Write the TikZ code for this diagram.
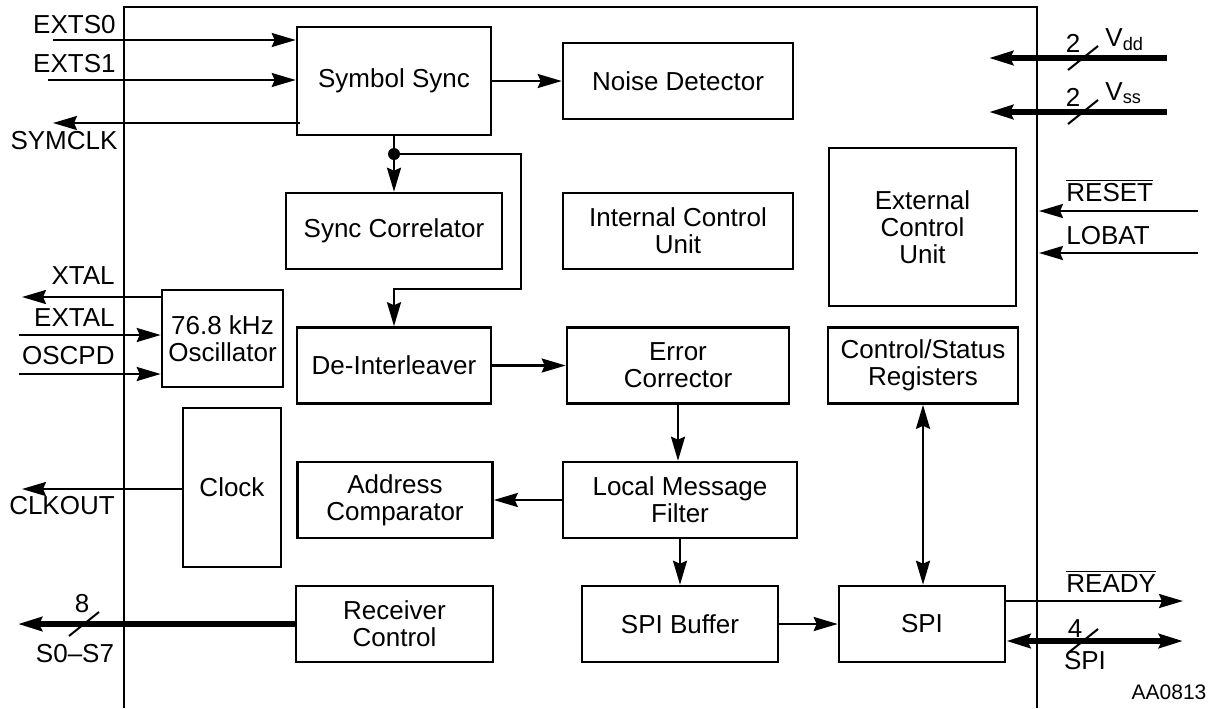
\documentclass[tikz,border=0pt]{standalone}
\usepackage{fontspec}
\setmainfont{Liberation Sans}
\usetikzlibrary{arrows.meta}

\begin{document}
\begin{tikzpicture}[x=0.5pt,y=-0.5pt,
  font=\fontsize{13}{13.5}\selectfont,
  >={Stealth[length=12pt,width=7pt,inset=1.5pt]},
  block/.style={draw,line width=1.3pt,align=center,inner sep=0pt,minimum height=38pt},
  wire/.style={line width=1.2pt},
  bus/.style={line width=2.6pt},
  slash/.style={line width=1pt},
  lbl/.style={inner sep=0pt}]
\useasboundingbox (0,0) rectangle (1209,708);
% chip outline, open at the bottom
\draw[line width=1.3pt] (124,708) -- (124,7) -- (1037,7) -- (1037,708);
% blocks
\node[block,minimum width=97pt,minimum height=54pt] (sync) at (394,81) {Symbol Sync};
\node[block,minimum width=115pt] (noise) at (678,81) {Noise Detector};
\node[block,minimum width=108pt] (corr) at (394,231) {Sync Correlator};
\node[block,minimum width=115pt] (icu) at (678,231) {Internal Control\\Unit};
\node[block,minimum width=93.5pt,minimum height=79pt] (ecu) at (922.5,227) {External\\Control\\Unit};
\node[block,minimum width=60.5pt,minimum height=48.5pt] (osc) at (222.5,338.5) {76.8 kHz\\Oscillator};
\node[block,minimum width=97pt] (deint) at (394,365.5) {De-Interleaver};
\node[block,minimum width=111pt] (errc) at (678,365.5) {Error\\Corrector};
\node[block,minimum width=95pt] (csr) at (923,365.5) {Control/Status\\Registers};
\node[block,minimum width=49pt,minimum height=79.5pt] (clock) at (232,487.5) {Clock};
\node[block,minimum width=97.5pt] (addr) at (395,500) {Address\\Comparator};
\node[block,minimum width=117pt] (lmf) at (680,500) {Local Message\\Filter};
\node[block,minimum width=98.5pt] (recv) at (394.5,624) {Receiver\\Control};
\node[block,minimum width=98pt] (spibuf) at (680,624) {SPI Buffer};
\node[block,minimum width=83pt] (spi) at (922,624) {SPI};
% pin ends
\coordinate (exts0) at (53,40);
\coordinate (exts1) at (48,80);
\coordinate (symclk) at (53,123);
\coordinate (xtal) at (22,297);
\coordinate (extal) at (19,335);
\coordinate (oscpd) at (19,374);
\coordinate (clkout) at (22,489);
\coordinate (sbus) at (18,624);
\coordinate (vdd) at (1167,58);
\coordinate (vss) at (1167,112);
\coordinate (vtip) at (989,0);
\coordinate (reset) at (1198,211);
\coordinate (lobat) at (1198,253);
\coordinate (edge) at (1039,0);
\coordinate (ready) at (1183,601);
\coordinate (spibus) at (1183,641);
\coordinate (tap) at (394,154);
\coordinate (loop) at (521,289);
% connections
\draw[wire,->] (exts0) -- (sync.west |- exts0);
\draw[wire,->] (exts1) -- (sync.west |- exts1);
\draw[wire,->] ([xshift=2pt]sync.west |- symclk) -- (symclk);
\draw[wire,->] (sync.east) -- (noise.west);
\draw[wire] (sync.south) -- (tap);
\draw[wire,->] (tap) -- (corr.north);
\draw[wire,->] (tap) -| (loop) -| (deint.north);
\fill (tap) circle (3pt);
\draw[wire,->] (osc.west |- xtal) -- (xtal);
\draw[wire,->] (extal) -- (osc.west |- extal);
\draw[wire,->] (oscpd) -- (osc.west |- oscpd);
\draw[wire,->] (deint.east) -- (errc.west);
\draw[wire,->] (errc.south) -- (errc.south |- lmf.north);
\draw[wire,->] (lmf.west) -- (addr.east);
\draw[wire,->] (lmf.south) -- (spibuf.north);
\draw[wire,->] (spibuf.east) -- (spi.west);
\draw[wire,<->] (csr.south) -- (csr.south |- spi.north);
\draw[wire,->] (clock.west |- clkout) -- (clkout);
\draw[bus,->] (recv.west) -- (sbus);
\draw[bus,->] (vdd) -- (vtip |- vdd);
\draw[bus,->] (vss) -- (vtip |- vss);
\draw[wire,->] (reset) -- (edge |- reset);
\draw[wire,->] (lobat) -- (edge |- lobat);
\draw[wire,->] (spi.east |- ready) -- (ready);
\draw[bus,<->] (spi.east |- spibus) -- (spibus);
% bus width marks
\foreach \sx/\sy in {84/624,1083/58,1083/112,1083/641}
  \draw[slash] (\sx,\sy) ++(-15,12) -- ++(30,-24);
% pin labels
\node[lbl,anchor=base east] (lexts0) at (116,33) {EXTS0};
\node[lbl,anchor=base east] (lexts1) at (116,72) {EXTS1};
\node[lbl,anchor=base] (lsymclk) at (64,149) {SYMCLK};
\node[lbl,anchor=base east] (lxtal) at (115,284) {XTAL};
\node[lbl,anchor=base east] (lextal) at (115,326) {EXTAL};
\node[lbl,anchor=base east] (loscpd) at (115,364) {OSCPD};
\node[lbl,anchor=base] (lclkout) at (62,514) {CLKOUT};
\node[lbl,anchor=base] (lbus8) at (82,612) {8};
\node[lbl,anchor=base] (ls07) at (75,662) {S0--S7};
\node[lbl,anchor=base] (lvdd2) at (1073,52) {2};
\node[lbl,anchor=base west] (lvdd) at (1105,46) {V\textsubscript{dd}};
\node[lbl,anchor=base] (lvss2) at (1073,106) {2};
\node[lbl,anchor=base west] (lvss) at (1105,100) {V\textsubscript{ss}};
\node[lbl,anchor=base west] (lreset) at (1066,201) {$\overline{\mbox{RESET}}$};
\node[lbl,anchor=base west] (llobat) at (1066,244) {LOBAT};
\node[lbl,anchor=base west] (lready) at (1066,592) {$\overline{\mbox{READY}}$};
\node[lbl,anchor=base] (lbus4) at (1075,637) {4};
\node[lbl,anchor=base] (lspi) at (1085,669) {SPI};
\node[lbl,anchor=base,font=\fontsize{10.5}{12}\selectfont] (ref) at (1169,699) {AA0813};
\end{tikzpicture}
\end{document}
